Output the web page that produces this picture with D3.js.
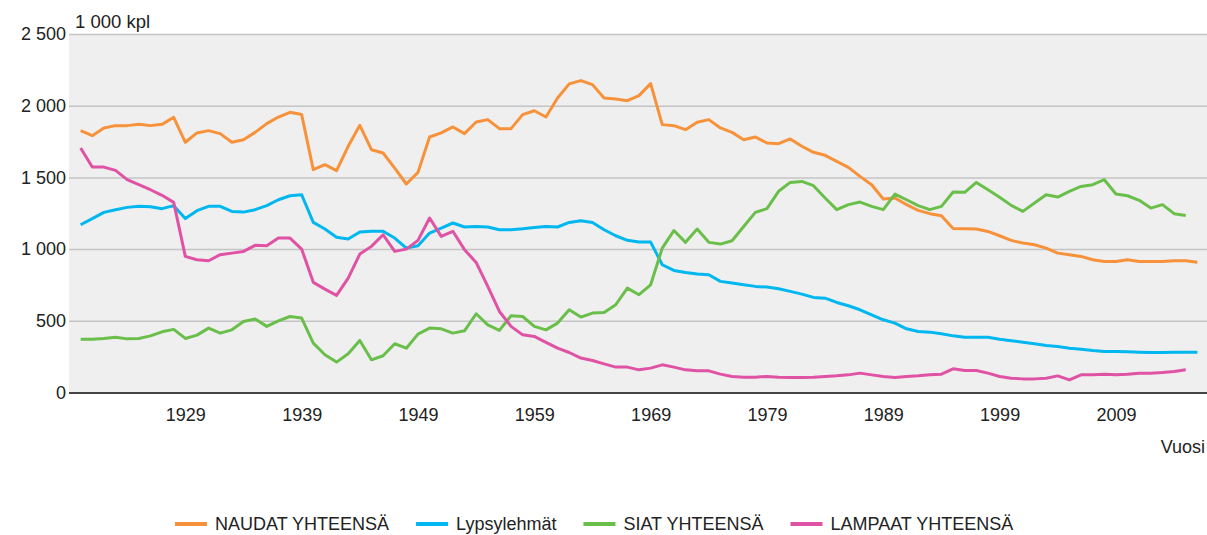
<!DOCTYPE html>
<html>
<head>
<meta charset="utf-8">
<script src="https://cdn.jsdelivr.net/npm/d3@7"></script>
<style>
  body { margin: 0; background: #fff; }
  text { font-family: "Liberation Sans", Arial, sans-serif; fill: #222; }
</style>
</head>
<body>
<div id="chart"></div>
<script>
// vuodet ja sarjat (1 000 kpl)
const startYear = 1920;

const naudat = [1826,1791,1845,1861,1861,1870,1861,1870,1919,1745,
  1810,1826,1805,1745,1763,1814,1875,1921,1954,1938,
  1554,1589,1547,1717,1863,1693,1670,1565,1454,1535,
  1782,1810,1852,1805,1886,1903,1840,1840,1938,1965,
  1921,2054,2152,2175,2147,2054,2047,2035,2070,2154,
  1868,1861,1833,1884,1903,1845,1814,1763,1782,1740,
  1735,1768,1717,1675,1654,1612,1570,1507,1449,1349,
  1356,1310,1270,1247,1233,1144,1142,1140,1123,1093,
  1061,1042,1030,1007,972,961,949,926,914,914,
  926,914,914,914,919,919,909];

const lypsylehmat = [1170,1212,1256,1275,1291,1298,1296,1282,1303,1214,
  1268,1298,1298,1263,1258,1275,1303,1344,1372,1379,
  1186,1140,1082,1070,1119,1124,1124,1077,1007,1023,
  1112,1147,1182,1154,1158,1154,1135,1135,1142,1151,
  1158,1154,1186,1198,1186,1135,1093,1061,1049,1049,
  891,851,837,826,821,775,763,751,740,735,
  723,705,686,663,658,628,605,577,542,507,
  484,444,426,421,409,395,386,386,386,372,
  361,351,340,328,321,309,302,293,286,286,
  284,281,279,279,281,281,281];

const siat = [372,372,377,386,374,377,395,423,440,377,
  400,449,414,437,495,512,461,500,530,519,
  344,263,212,270,363,228,256,340,309,407,
  449,444,414,430,549,472,433,535,530,461,
  437,484,577,526,554,558,612,728,682,751,
  1007,1130,1047,1140,1047,1035,1058,1158,1256,1282,
  1403,1465,1472,1442,1356,1275,1310,1328,1298,1275,
  1384,1344,1303,1275,1298,1398,1396,1465,1414,1361,
  1305,1263,1321,1379,1363,1403,1437,1449,1484,1384,
  1372,1340,1286,1310,1247,1235];

const lampaat = [1705,1572,1572,1549,1484,1449,1414,1375,1326,949,
  926,919,961,972,984,1026,1023,1077,1077,1000,
  768,721,677,798,965,1019,1100,984,1000,1061,
  1217,1089,1124,996,907,740,565,461,402,391,
  349,309,279,240,223,200,177,177,158,170,
  193,177,158,151,151,128,112,107,107,112,
  107,105,105,107,112,116,123,135,123,112,
  105,112,116,123,128,165,154,154,135,112,
  100,95,95,100,116,88,123,123,128,123,
  128,135,135,140,147,158];

const seriesNames = ["NAUDAT YHTEENSÄ", "Lypsylehmät", "SIAT YHTEENSÄ", "LAMPAAT YHTEENSÄ"];
const seriesColors = ["#f7923a", "#00b7ef", "#6abf4b", "#e052a4"];
const yTicks = [0, 500, 1000, 1500, 2000, 2500];
const xTicks = [1929, 1939, 1949, 1959, 1969, 1979, 1989, 1999, 2009];

const width = 1207, height = 535;
const margin = { top: 34, right: -2, bottom: 143, left: 69 };

const svg = d3.select("#chart").append("svg")
  .attr("width", width)
  .attr("height", height);

const x = d3.scaleLinear()
  .domain([1919, 2017])
  .range([margin.left, width - margin.right]);

const y = d3.scaleLinear()
  .domain([0, 2500])
  .range([height - margin.bottom + 0.5, margin.top]);

const fi = d3.formatLocale({ decimal: ",", thousands: "\u00a0", grouping: [3], currency: ["", "€"] });
const fmt = fi.format(",d");

// tausta
svg.append("rect")
  .attr("x", margin.left)
  .attr("y", y(2500))
  .attr("width", x(2017) - margin.left)
  .attr("height", y(0) - y(2500))
  .attr("fill", "#efefef");

// y-akseli + ruudukko
const yAxis = svg.append("g")
  .attr("transform", "translate(" + margin.left + ",0)")
  .call(d3.axisLeft(y).tickValues(yTicks).tickFormat(fmt)
    .tickSize(-(x(2017) - margin.left)).tickPadding(3));
yAxis.select(".domain").remove();
yAxis.selectAll(".tick line")
  .attr("stroke", d => d === 0 ? "#444" : "#c4c4c4")
  .attr("stroke-width", d => d === 0 ? 2 : 1.5);
yAxis.selectAll(".tick text")
  .style("font-size", "18px")
  .style("font-family", "'Liberation Sans', Arial, sans-serif")
  .attr("fill", "#222");

// x-akseli
const xAxis = svg.append("g")
  .attr("transform", "translate(0," + y(0) + ")")
  .call(d3.axisBottom(x).tickValues(xTicks).tickFormat(d3.format("d")).tickSize(0).tickPadding(16));
xAxis.select(".domain").remove();
xAxis.selectAll(".tick text")
  .style("font-size", "18px")
  .style("font-family", "'Liberation Sans', Arial, sans-serif")
  .attr("fill", "#222");

// viivat
const allSeries = [naudat, lypsylehmat, siat, lampaat];
const line = d3.line()
  .x((d, i) => x(startYear + i))
  .y(d => y(d));

svg.append("g").selectAll("path")
  .data(allSeries)
  .join("path")
  .attr("d", d => line(d))
  .attr("fill", "none")
  .attr("stroke", (d, i) => seriesColors[i])
  .attr("stroke-width", 3)
  .attr("stroke-linejoin", "round");

// otsikot
svg.append("text")
  .attr("x", 75)
  .attr("y", 28)
  .style("font-size", "18.5px")
  .text("1 000 kpl");

svg.append("text")
  .attr("x", 1205)
  .attr("y", 453)
  .attr("text-anchor", "end")
  .style("font-size", "18px")
  .text("Vuosi");

// selite
const legend = svg.append("g").attr("transform", "translate(0,524)");
let lx = 0;
const items = legend.selectAll("g")
  .data(seriesNames)
  .join("g");
items.append("line")
  .attr("x1", 0).attr("x2", 32)
  .attr("y1", 0).attr("y2", 0)
  .attr("stroke", (d, i) => seriesColors[i])
  .attr("stroke-width", 4);
items.append("text")
  .attr("x", 40)
  .attr("dy", "0.35em")
  .style("font-size", "18px")
  .text(d => d);
items.each(function () {
  const w = 40 + d3.select(this).select("text").node().getComputedTextLength();
  d3.select(this).attr("transform", "translate(" + lx + ",0)");
  lx += w + 27;
});
lx -= 27;
legend.attr("transform", "translate(" + Math.round(594 - lx / 2) + ",524)");
</script>
</body>
</html>
